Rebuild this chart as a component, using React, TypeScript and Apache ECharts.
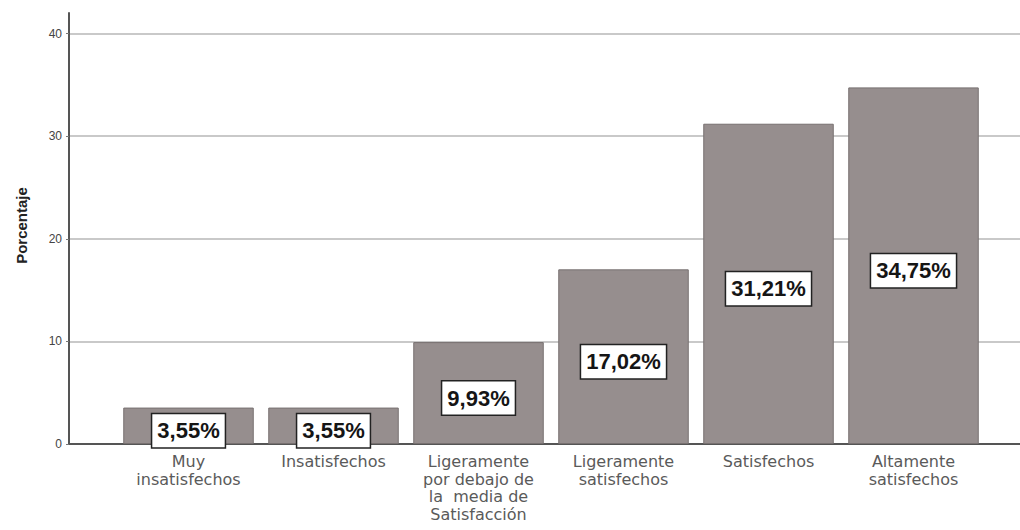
import React, { useEffect, useRef } from "react";
import * as echarts from "echarts";

const categories = [
  "Muy\ninsatisfechos",
  "Insatisfechos",
  "Ligeramente\npor debajo de\nla  media de\nSatisfacción",
  "Ligeramente\nsatisfechos",
  "Satisfechos",
  "Altamente\nsatisfechos",
];
const percentages = [3.55, 3.55, 9.93, 17.02, 31.21, 34.75];
const yTicks = [0, 10, 20, 30, 40];
const yMax = 42;

export default function App() {
  const ref = useRef<HTMLDivElement>(null);
  useEffect(() => {
    if (!ref.current) return;
    const chart = echarts.init(ref.current, null, { renderer: "svg" });
    const gridColor = "#c9c9c9";
    chart.setOption({
      animation: false,
      backgroundColor: "#ffffff",
      grid: [
        { left: 69, right: 0, top: 13, bottom: 86 },
        { left: 116, right: 34, top: 13, bottom: 86 },
      ],
      xAxis: [
        {
          gridIndex: 0,
          type: "value",
          min: 0,
          max: 1,
          axisLine: { show: true, lineStyle: { color: "#555555", width: 2 } },
          axisTick: { show: false },
          axisLabel: { show: false },
          splitLine: { show: false },
        },
        {
          gridIndex: 1,
          type: "category",
          data: categories,
          axisLine: { show: false },
          axisTick: { show: false },
          axisLabel: {
            interval: 0,
            color: "#5a5a5a",
            fontFamily: "DejaVu Sans, Arial, sans-serif",
            fontSize: 16,
            lineHeight: 17.5,
            margin: 9,
          },
        },
      ],
      yAxis: [
        {
          gridIndex: 0,
          type: "value",
          min: 0,
          max: yMax,
          interval: 10,
          name: "Porcentaje",
          nameLocation: "middle",
          nameGap: 40,
          nameTextStyle: {
            fontFamily: "Arial, Liberation Sans, sans-serif",
            fontSize: 15,
            fontWeight: "bold",
            color: "#222222",
            padding: [0, 0, 0, 6],
          },
          axisLine: { show: true, lineStyle: { color: "#555555", width: 2 } },
          axisTick: { show: true, length: 3, lineStyle: { color: "#777777" } },
          axisLabel: {
            color: "#444444",
            fontFamily: "Arial, Liberation Sans, sans-serif",
            fontSize: 12,
            margin: 7,
            showMaxLabel: false,
            formatter: (v: number) => (yTicks.includes(v) ? String(v) : ""),
          },
          splitLine: {
            show: true,
            lineStyle: {
              color: [gridColor, gridColor, gridColor, gridColor, gridColor, "rgba(0,0,0,0)"],
              width: 2,
            },
          },
        },
        {
          gridIndex: 1,
          type: "value",
          min: 0,
          max: yMax,
          interval: 10,
          show: false,
          splitLine: { show: false },
        },
      ],
      series: [
        {
          type: "bar",
          xAxisIndex: 1,
          yAxisIndex: 1,
          data: percentages,
          barCategoryGap: "10%",
          itemStyle: {
            color: "#968e8e",
            borderColor: "#777070",
            borderWidth: 1,
          },
          label: {
            show: true,
            position: "inside",
            offset: [0, 5],
            formatter: (p: any) => p.value.toFixed(2).replace(".", ",") + "%",
            fontFamily: "Arial, Liberation Sans, sans-serif",
            fontSize: 22,
            fontWeight: "bold",
            color: "#151515",
            backgroundColor: "#ffffff",
            borderColor: "#222222",
            borderWidth: 1.5,
            padding: [6, 5, 5, 5],
          },
        },
      ],
    });
    return () => chart.dispose();
  }, []);
  return (
    <div
      ref={ref}
      style={{ position: "fixed", left: 0, top: 0, width: 1020, height: 530 }}
    />
  );
}
